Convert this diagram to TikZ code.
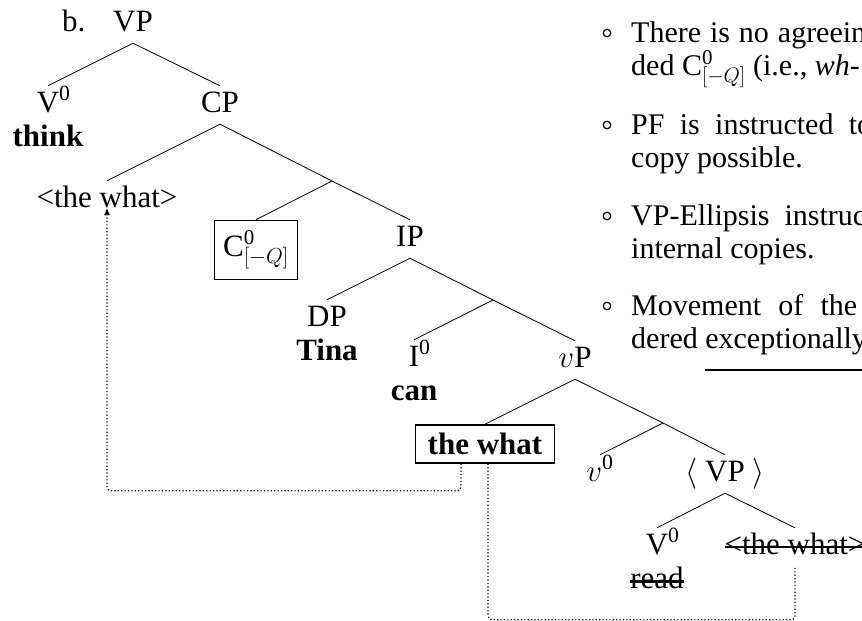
\RequirePackage{fix-cm}
\documentclass[tikz,border=0pt]{standalone}
\usepackage{fontspec}
\setmainfont{Liberation Serif}
\usetikzlibrary{arrows,positioning}

\newcommand{\treesize}{\fontsize{31}{36}\selectfont}
\newcommand{\listsize}{\fontsize{30}{34}\selectfont}
% bar level zero, hanging to the right of the head
\newcommand{\zsup}{\rlap{\textsuperscript{0}}}
\newcommand{\zmath}{\mbox{\fontsize{21}{22}\selectfont 0}}
% struck and underlined words
\newsavebox{\markbox}
\newcommand{\strike}[1]{\sbox{\markbox}{#1}\rlap{\usebox{\markbox}}\rule[5.8pt]{\wd\markbox}{2.4pt}}
\newcommand{\deepline}[1]{\sbox{\markbox}{#1}\rlap{\usebox{\markbox}}\rule[-23.3pt]{\wd\markbox}{2.6pt}}

\begin{document}
\begin{tikzpicture}[x=1pt,y=-1pt,
    lbl/.style={font=\treesize,text height=20pt,text depth=6pt,inner sep=6pt},
    lex/.style={font=\treesize\bfseries,text height=20pt,text depth=6pt,inner sep=0pt},
    boxed/.style={draw,line width=1.6pt,inner sep=2pt,font=\treesize},
    branch/.style={line width=0.8pt},
    move/.style={line width=1.2pt,dash pattern=on 1.2pt off 2.2pt,rounded corners=4pt},
    itemdot/.style={circle,draw,line width=1.2pt,minimum size=7.5pt,inner sep=0pt},
    txtline/.style={font=\listsize,anchor=base west,inner sep=0pt}]

    \useasboundingbox (0,0) rectangle (862,621);

    % the tree
    \node[font=\treesize,anchor=base west,inner sep=0pt] (ex) at (62,31) {b.};
    \node[lbl,anchor=base] (VP) at (133,31) {VP};
    \node[lbl,anchor=base] (V0) at (48,112) {V\zsup};
    \node[lex,below=2pt of V0] (think) {think};
    \node[lbl,anchor=base] (CP) at (220,112) {CP};
    \node[lbl,anchor=base] (what1) at (107,207) {<the what>};
    \coordinate (Cbar) at (332,181);
    \node[boxed,minimum width=83pt,minimum height=59pt] (C0) at (256,250) {C$^{\zmath}_{[-Q]}$};
    \node[lbl,anchor=base] (IP) at (410,246) {IP};
    \node[lbl,anchor=base] (DP) at (327,326) {DP};
    \node[lex,below=2pt of DP] (tina) {Tina};
    \coordinate (Ibar) at (493,300);
    \node[lbl,anchor=base] (I0) at (414,366) {I\zsup};
    \node[lex,below=2pt of I0] (can) {can};
    \node[lbl,anchor=base] (vP) at (575,367) {$v$P};
    \node[boxed,font=\treesize\bfseries,minimum width=139pt,minimum height=38pt] (what2) at (485,444) {the what};
    \coordinate (vbar) at (663,423);
    \node[lbl,anchor=base] (v0) at (600,481) {$v$\textsuperscript{0}};
    \node[lbl,anchor=base] (VPe) at (725,481) {$\langle$ VP $\rangle$};
    \node[lbl,anchor=base] (V0b) at (657,554) {V\zsup};
    \node[lex,font=\treesize,below=2pt of V0b] (read) {\strike{read}};
    \node[lbl,anchor=base] (what3) at (795,554) {\strike{<the what>}};

    \draw[branch] (VP.south) -- (V0.north);
    \draw[branch] (VP.south) -- (CP.north);
    \draw[branch] (CP.south) -- (what1.north);
    \draw[branch] (CP.south) -- (Cbar) -- (IP.north);
    \draw[branch] (Cbar) -- (C0.north);
    \draw[branch] (IP.south) -- (DP.north);
    \draw[branch] (IP.south) -- (Ibar) -- (vP.north);
    \draw[branch] (Ibar) -- (I0.north);
    \draw[branch] (vP.south) -- (what2.north);
    \draw[branch] (vP.south) -- (vbar) -- (VPe.north);
    \draw[branch] (vbar) -- (v0.north);
    \draw[branch] (VPe.south) -- (V0b.north);
    \draw[branch] (VPe.south) -- (what3.north);

    % movement paths
    \draw[move,->,>=stealth'] ([xshift=-24pt]what2.south) -- ++(0,27) -| ([yshift=10pt]what1.south);
    \draw[move] ([xshift=3pt]what2.south) -- ++(0,156) -| (what3.south);

    % the list
    \node[itemdot] (b1) at (607,33) {};
    \node[txtline] (t1a) at (631,42) {\makebox[235pt][s]{There is no agreein}};
    \node[txtline] (t1b) at (631,75) {ded C$^{\zmath}_{[-Q]}$ (i.e., \textit{wh-}};
    \node[itemdot] (b2) at (607,125) {};
    \node[txtline] (t2a) at (631,134) {\makebox[241pt][s]{PF is instructed to}};
    \node[txtline] (t2b) at (631,167) {copy possible.};
    \node[itemdot] (b3) at (607,216) {};
    \node[txtline] (t3a) at (631,225) {\makebox[235pt][s]{VP-Ellipsis instruc}};
    \node[txtline] (t3b) at (631,258) {internal copies.};
    \node[itemdot] (b4) at (607,306) {};
    \node[txtline] (t4a) at (631,315) {\makebox[226pt][s]{Movement of the}};
    \node[txtline] (t4b) at (631,348) {dered \deepline{exceptionally}};
\end{tikzpicture}
\end{document}
